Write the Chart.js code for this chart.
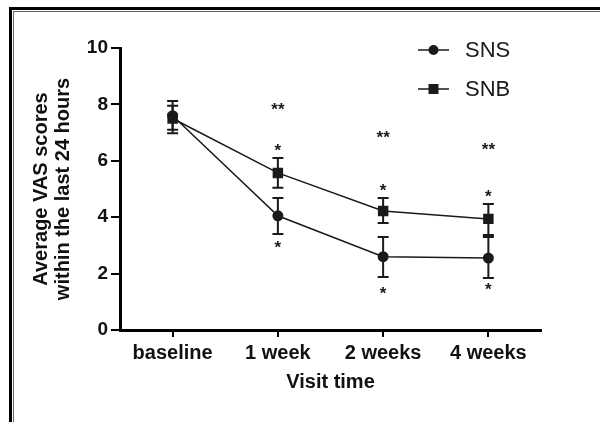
<!DOCTYPE html>
<html>
<head>
<meta charset="utf-8">
<script src="https://cdn.jsdelivr.net/npm/chart.js@4.4.1/dist/chart.umd.min.js"></script>
<style>
  html, body { margin: 0; padding: 0; background: #fff; }
  #wrap { position: relative; width: 600px; height: 422px; overflow: hidden; }
  #frame { position: absolute; left: 9px; top: 7px; right: -10px; bottom: -10px;
           border-top: 3px solid #000; border-left: 3px solid #000; }
  #frame2 { position: absolute; left: 1px; top: 1px; right: 0; bottom: 0;
            border-top: 1px solid #666; border-left: 1px solid #666; }
  canvas { position: absolute; left: 0; top: 0; }
</style>
</head>
<body>
<div id="wrap">
  <canvas id="vasChart" width="600" height="422"></canvas>
  <div id="frame"><div id="frame2"></div></div>
</div>
<script>
const categories = ['baseline', '1 week', '2 weeks', '4 weeks'];

const snsMean = [7.6, 4.05, 2.6, 2.55];
const snsLow  = [7.1, 3.4, 1.88, 1.84];
const snsHigh = [8.12, 4.68, 3.3, 3.3];

const snbMean = [7.5, 5.57, 4.22, 3.94];
const snbLow  = [6.98, 5.04, 3.79, 3.37];
const snbHigh = [7.95, 6.1, 4.68, 4.47];

// significance marks (y in score units)
const doubleStarY = [null, 7.98, 6.99, 6.55];
const snbStarY    = [null, 6.52, 5.12, 4.88];
const snsStarY    = [null, 3.07, 1.44, 1.58];

const yTicks = [0, 2, 4, 6, 8, 10];

const ink = '#1a1a1a';
const fontFamily = '"Liberation Sans", Arial, Helvetica, sans-serif';

const errorBars = {
  id: 'errorBars',
  afterDatasetsDraw(chart) {
    const { ctx, scales: { x, y } } = chart;
    const sets = [[snsLow, snsHigh], [snbLow, snbHigh]];
    ctx.save();
    ctx.strokeStyle = ink;
    ctx.lineWidth = 2;
    sets.forEach(([lo, hi]) => {
      lo.forEach((v, i) => {
        const px = x.getPixelForValue(i);
        const y1 = y.getPixelForValue(v);
        const y2 = y.getPixelForValue(hi[i]);
        ctx.beginPath();
        ctx.moveTo(px, y1); ctx.lineTo(px, y2);
        ctx.moveTo(px - 5.5, y1); ctx.lineTo(px + 5.5, y1);
        ctx.moveTo(px - 5.5, y2); ctx.lineTo(px + 5.5, y2);
        ctx.stroke();
      });
    });

    // asterisks
    ctx.fillStyle = ink;
    ctx.font = 'bold 17px ' + fontFamily;
    ctx.textAlign = 'center';
    ctx.textBaseline = 'alphabetic';
    const marks = [[doubleStarY, '**'], [snbStarY, '*'], [snsStarY, '*']];
    marks.forEach(([arr, txt]) => {
      arr.forEach((v, i) => {
        if (v == null) return;
        ctx.fillText(txt, x.getPixelForValue(i), y.getPixelForValue(v) + 10);
      });
    });
    ctx.restore();
  }
};

const lineLegend = {
  id: 'lineLegend',
  afterDraw(chart) {
    const { ctx } = chart;
    ctx.save();
    chart.data.datasets.forEach((ds, k) => {
      const yy = 50 + k * 39;
      ctx.strokeStyle = ink;
      ctx.lineWidth = 1.5;
      ctx.beginPath();
      ctx.moveTo(418, yy); ctx.lineTo(449, yy);
      ctx.stroke();
      ctx.fillStyle = ink;
      if (ds.pointStyle === 'rect') {
        ctx.fillRect(433.5 - 5, yy - 5, 10, 10);
      } else {
        ctx.beginPath();
        ctx.arc(433.5, yy, 5, 0, Math.PI * 2);
        ctx.fill();
      }
      ctx.font = '22px ' + fontFamily;
      ctx.textAlign = 'left';
      ctx.textBaseline = 'middle';
      ctx.fillText(ds.label, 465, yy + 1);
    });
    ctx.restore();
  }
};

new Chart(document.getElementById('vasChart'), {
  type: 'line',
  data: {
    labels: categories,
    datasets: [
      {
        label: 'SNS',
        data: snsMean,
        borderColor: ink,
        backgroundColor: ink,
        borderWidth: 1.5,
        pointStyle: 'circle',
        pointRadius: 5.5,
        pointBackgroundColor: ink,
        pointBorderWidth: 0,
        tension: 0,
      },
      {
        label: 'SNB',
        data: snbMean,
        borderColor: ink,
        backgroundColor: ink,
        borderWidth: 1.5,
        pointStyle: 'rect',
        pointRadius: 7.4,
        pointBackgroundColor: ink,
        pointBorderWidth: 0,
        tension: 0,
      }
    ]
  },
  options: {
    responsive: false,
    animation: false,
    layout: { padding: { left: 0, top: 48, right: 59, bottom: 28 } },
    plugins: {
      legend: { display: false },
      tooltip: { enabled: false }
    },
    scales: {
      x: {
        offset: true,
        afterFit: s => { s.height = 64; },
        grid: { drawOnChartArea: false, offset: false, color: '#000', lineWidth: 2, tickLength: 7 },
        border: { display: true, color: '#000', width: 3 },
        ticks: { color: '#111', padding: 4, font: { family: fontFamily, size: 20, weight: 'bold' } },
        title: {
          display: true, text: 'Visit time', color: '#111',
          font: { family: fontFamily, size: 20, weight: 'bold', lineHeight: 1.2 },
          padding: { top: 0, bottom: 0 }
        }
      },
      y: {
        min: 0, max: 10,
        afterFit: s => { s.width = 120; },
        afterBuildTicks: s => { s.ticks = yTicks.map(v => ({ value: v })); },
        grid: { drawOnChartArea: false, color: '#000', lineWidth: 2, tickLength: 9 },
        border: { display: true, color: '#000', width: 3 },
        ticks: { color: '#111', padding: 3, font: { family: fontFamily, size: 19, weight: 'bold' } },
        title: {
          display: true,
          text: ['Average VAS scores', 'within the last 24 hours'],
          color: '#111',
          font: { family: fontFamily, size: 20, weight: 'bold', lineHeight: 1.1 },
          padding: { top: 30, bottom: 0 }
        }
      }
    }
  },
  plugins: [errorBars, lineLegend]
});
</script>
</body>
</html>
